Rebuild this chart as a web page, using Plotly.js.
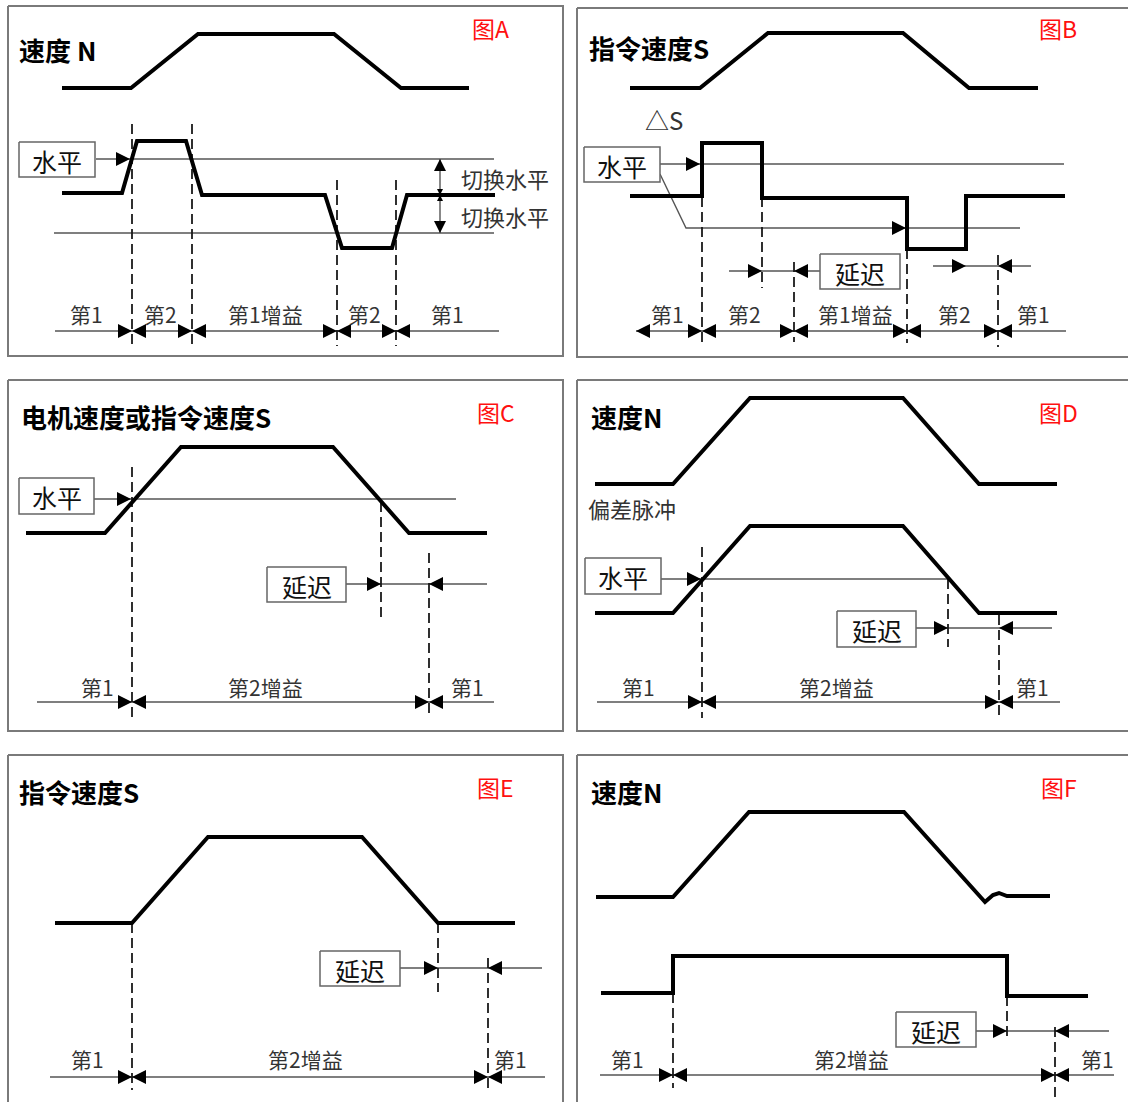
<!DOCTYPE html>
<html>
<head>
<meta charset="utf-8">
<script src="https://cdn.plot.ly/plotly-3.0.1.min.js"></script>
<style>html,body{margin:0;padding:0;background:#fff}</style>
</head>
<body>
<div id="chart" style="width:1128px;height:1102px"></div>
<script>
// panel frames: left, top, right, bottom
const frameL = [8, 577, 8, 577, 8, 577];
const frameT = [6, 8, 380, 380, 755, 755];
const frameR = [563, 1140, 563, 1140, 563, 1140];
const frameB = [356, 357, 731, 731, 1110, 1110];

// thick waveforms
const aSpeedX = [62, 131, 198, 334, 401, 469];
const aSpeedY = [88, 88, 34, 34, 88, 88];
const aGainX = [62, 122, 137, 186, 202, 325, 342, 392, 407, 495];
const aGainY = [193, 193, 141, 141, 195, 195, 248, 248, 195, 195];
const bSpeedX = [630, 700, 768, 903, 969, 1038];
const bSpeedY = [88, 88, 33, 33, 88, 88];
const bDeltaX = [630, 702, 702, 762, 762, 907, 907, 966, 966, 1065];
const bDeltaY = [196, 196, 143, 143, 198, 198, 249, 249, 196, 196];
const cSpeedX = [26, 105, 181, 333, 409, 487];
const cSpeedY = [533, 533, 447, 447, 533, 533];
const dSpeedX = [595, 673, 750, 903, 979, 1057];
const dSpeedY = [484, 484, 398, 398, 484, 484];
const dPulseX = [595, 673, 750, 903, 979, 1057];
const dPulseY = [613, 613, 526, 526, 613, 613];
const eSpeedX = [55, 132, 208, 362, 438, 515];
const eSpeedY = [923, 923, 837, 837, 923, 923];
const fSpeedX = [596, 673, 749, 904, 985, 993, 999, 1003, 1007, 1050];
const fSpeedY = [897, 897, 812, 812, 902, 895, 893, 894, 896, 896];
const fGainX = [601, 673, 673, 1007, 1007, 1088];
const fGainY = [993, 993, 956, 956, 996, 996];

// thin level lines
const aLevel1X = [96, 494], aLevel1Y = [159, 159];
const aLevel2X = [54, 494], aLevel2Y = [233, 233];
const bLevel1X = [660, 1064], bLevel1Y = [164, 164];
const bLevel2X = [660, 686, 1020], bLevel2Y = [174, 228, 228];
const cLevelX = [94, 456], cLevelY = [499, 499];
const dLevelX = [661, 947], dLevelY = [579, 579];
const aSwitchX = [440, 440], aSwitchY = [159, 233];

// dashed markers: x, top, bottom
const dashX = [132, 192, 337, 396, 702, 762, 794, 907, 998, 132, 381, 429, 702, 948, 999, 132, 438, 488, 673, 1007, 1055];
const dashTop = [124, 124, 180, 180, 197, 197, 262, 249, 255, 467, 502, 553, 547, 579, 615, 923, 923, 958, 993, 996, 1027];
const dashBot = [346, 346, 346, 346, 343, 288, 342, 343, 347, 718, 617, 717, 718, 647, 718, 1090, 992, 1090, 1088, 1038, 1097];

// gain timelines: start, end, y, switch points
const timeStart = [55, 636, 37, 597, 50, 600];
const timeEnd = [499, 1066, 494, 1060, 545, 1114];
const timeY = [331, 331, 702, 702, 1077, 1075];
const timeSplits = [[132, 192, 337, 396], [702, 794, 907, 998], [132, 429], [702, 999], [132, 488], [673, 1055]];

// delay rows: start, end, y, arrow in, arrow out
const delayStart = [729, 933, 346, 916, 400, 976];
const delayEnd = [820, 1031, 487, 1052, 542, 1109];
const delayY = [271, 266, 584, 628, 968, 1031];
const delayIn = [762, 966, 381, 948, 438, 1007];
const delayOut = [794, 998, 429, 999, 488, 1055];

// level pointers (arrow tips)
const pointerX = [130, 700, 906, 131, 701];
const pointerY = [159, 164, 228, 499, 579];

// labelled boxes
const boxL = [19, 584, 820, 19, 267, 585, 837, 320, 896];
const boxT = [142, 147, 254, 478, 567, 558, 611, 951, 1012];
const boxR = [95, 660, 900, 94, 346, 661, 916, 400, 976];
const boxB = [177, 182, 289, 514, 602, 594, 647, 986, 1047];
const boxText = ['水平', '水平', '延迟', '水平', '延迟', '水平', '延迟', '延迟', '延迟'];

// titles
const titleText = ['速度 N', '指令速度S', '电机速度或指令速度S', '速度N', '指令速度S', '速度N'];
const titleX = [17, 587, 19, 589, 17, 589];
const titleY = [49, 47, 416, 416, 791, 791];
const figText = ['图A', '图B', '图C', '图D', '图E', '图F'];
const figX = [470, 1037, 475, 1037, 475, 1039];
const figY = [28, 28, 412, 412, 787, 787];

// segment labels
const segText = ['第1', '第2', '第1增益', '第2', '第1',
  '第1', '第2', '第1增益', '第2', '第1',
  '第1', '第2增益', '第1',
  '第1', '第2增益', '第1',
  '第1', '第2增益', '第1',
  '第1', '第2增益', '第1'];
const segX = [86, 160, 265, 364, 447, 667, 744, 855, 954, 1033, 97, 265, 467, 638, 836, 1032, 87, 305, 510, 627, 851, 1097];
const segY = [314, 314, 314, 314, 314, 314, 314, 314, 314, 314, 687, 687, 687, 687, 687, 687, 1059, 1059, 1059, 1059, 1059, 1059];

const otherText = ['切换水平', '切换水平', '△S', '偏差脉冲'];
const otherX = [505, 505, 664, 632];
const otherY = [178, 216, 119, 508];

const traces = [];
function addLine(xs, ys, width, color, dash) {
  traces.push({type: 'scatter', mode: 'lines', x: xs, y: ys, hoverinfo: 'skip',
    line: {width: width, color: color, dash: dash || 'solid'}});
}
function addArrows(xs, ys, symbol, size) {
  traces.push({type: 'scatter', mode: 'markers', x: xs, y: ys, hoverinfo: 'skip',
    marker: {symbol: symbol, size: size, color: '#000', line: {width: 0}}});
}

// frames
for (let i = 0; i < frameL.length; i++) {
  addLine([frameL[i], frameR[i], frameR[i], frameL[i], frameL[i]],
          [frameT[i], frameT[i], frameB[i], frameB[i], frameT[i]], 2, '#7a7a7a');
}

// thin lines
const thin = '#555';
[[aLevel1X, aLevel1Y], [aLevel2X, aLevel2Y], [bLevel1X, bLevel1Y], [bLevel2X, bLevel2Y],
 [cLevelX, cLevelY], [dLevelX, dLevelY], [aSwitchX, aSwitchY]].forEach(p => addLine(p[0], p[1], 1.4, thin));

for (let i = 0; i < timeStart.length; i++) {
  addLine([timeStart[i], timeEnd[i]], [timeY[i], timeY[i]], 1.4, thin);
  addLine([delayStart[i], delayEnd[i]], [delayY[i], delayY[i]], 1.4, thin);
}

// dashed verticals
const dx = [], dy = [];
dashX.forEach((x, i) => { dx.push(x, x, null); dy.push(dashTop[i], dashBot[i], null); });
addLine(dx, dy, 1.8, '#1a1a1a', '10px,5px');

// thick waveforms
[[aSpeedX, aSpeedY], [aGainX, aGainY], [bSpeedX, bSpeedY], [bDeltaX, bDeltaY],
 [cSpeedX, cSpeedY], [dSpeedX, dSpeedY], [dPulseX, dPulseY], [eSpeedX, eSpeedY],
 [fSpeedX, fSpeedY], [fGainX, fGainY]].forEach(p => addLine(p[0], p[1], 4, '#000'));

// boxes
for (let i = 0; i < boxL.length; i++) {
  traces.push({type: 'scatter', mode: 'lines', hoverinfo: 'skip', fill: 'toself', fillcolor: '#fff',
    x: [boxL[i], boxR[i], boxR[i], boxL[i], boxL[i]],
    y: [boxT[i], boxT[i], boxB[i], boxB[i], boxT[i]],
    line: {width: 1.5, color: '#666'}});
}

// arrowheads
const rx = [], ry = [], lx = [], ly = [];
timeSplits.forEach((s, i) => s.forEach(x => { rx.push(x); ry.push(timeY[i]); lx.push(x); ly.push(timeY[i]); }));
lx.push(timeStart[1]); ly.push(timeY[1]);
delayIn.forEach((x, i) => { rx.push(x); ry.push(delayY[i]); });
delayOut.forEach((x, i) => { lx.push(x); ly.push(delayY[i]); });
pointerX.forEach((x, i) => { rx.push(x); ry.push(pointerY[i]); });
addArrows(rx, ry, 'arrow-right', 14);
addArrows(lx, ly, 'arrow-left', 14);
addArrows([aSwitchX[0]], [aSwitchY[0]], 'arrow-up', 12);
addArrows([aSwitchX[1]], [aSwitchY[1]], 'arrow-down', 12);
addArrows([aSwitchX[0]], [195], 'arrow-down', 6);
addArrows([aSwitchX[0]], [195], 'arrow-up', 6);

// text
const cjk = '"Noto Sans CJK SC", "Noto Sans", sans-serif';
const annotations = [];
function addText(text, x, y, size, color, anchor, weight) {
  annotations.push({x: x, y: y, xref: 'x', yref: 'y', text: text, showarrow: false,
    xanchor: anchor || 'center', yanchor: 'middle',
    font: {family: cjk, size: size, color: color, weight: weight || 'normal'}});
}
titleText.forEach((t, i) => addText(t, titleX[i], titleY[i], 26, '#000', 'left', 'bold'));
figText.forEach((t, i) => addText(t, figX[i], figY[i], 23, '#ff1010', 'left'));
boxText.forEach((t, i) => addText(t, (boxL[i] + boxR[i]) / 2, (boxT[i] + boxB[i]) / 2 + 1, 25, '#111'));
segText.forEach((t, i) => addText(t, segX[i], segY[i], 21, '#333'));
otherText.forEach((t, i) => addText(t, otherX[i], otherY[i], i === 2 ? 24 : 22, '#333'));

const layout = {
  width: 1128, height: 1102,
  margin: {l: 0, r: 0, t: 0, b: 0},
  paper_bgcolor: '#fff', plot_bgcolor: '#fff',
  showlegend: false,
  xaxis: {range: [0, 1128], visible: false, fixedrange: true},
  yaxis: {range: [1102, 0], visible: false, fixedrange: true},
  annotations: annotations
};

Plotly.newPlot('chart', traces, layout, {displayModeBar: false, staticPlot: true});
</script>
</body>
</html>
